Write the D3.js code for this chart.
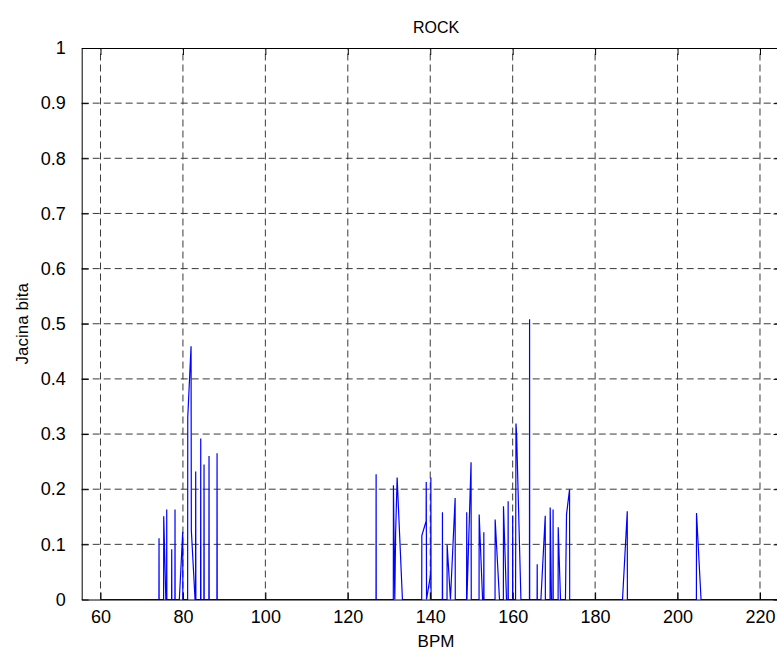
<!DOCTYPE html>
<html>
<head>
<meta charset="utf-8">
<script src="https://cdn.jsdelivr.net/npm/d3@7"></script>
<style>
  body { margin: 0; background: #fff; }
  text { font-family: "Liberation Sans", Arial, sans-serif; fill: #000; }
</style>
</head>
<body>
<script>
// DATA //
const bpm = [60,
    74.17, 74.2, 74.23,
    75.31, 75.34, 75.85, 76.04, 76.07, 76.1,
    77.25, 77.28, 77.31,
    78.05, 78.08, 78.11,
    79.13, 79.95, 79.98,
    81.14, 81.17, 81.97, 82.04, 82.94,
    83.06, 83.1, 83.14,
    84.28, 84.32, 84.36,
    85.08, 85.12, 85.16,
    86.29, 86.33, 86.37,
    88.24, 88.28, 88.32,
    126.84, 126.87, 126.9,
    131.04, 131.07, 131.4, 131.6, 131.97, 133.25,
    137.93, 137.96, 139.0, 139.03, 139.1, 140.12, 140.15, 140.2,
    142.93, 142.96, 142.99,
    144.07, 144.1, 144.9, 146.04, 146.07,
    148.82, 148.85, 148.9, 149.9, 149.95,
    151.84, 151.87, 152.7, 152.97, 153.0, 153.03,
    155.72, 155.75, 156.8,
    157.74, 157.77, 158.5, 158.87, 158.9, 158.93,
    159.97, 160.0, 160.03, 160.7, 160.8, 160.95, 162.0,
    164.07, 164.1, 164.13,
    165.92, 165.95, 165.98,
    166.85, 167.9, 167.93,
    169.07, 169.1, 169.4, 169.77, 169.8, 169.83,
    171.02, 171.05, 171.6,
    172.8, 173.06, 173.8, 173.83,
    186.65, 187.8, 187.83,
    204.57, 204.6, 205.7,
    230];

const jacina = [0,
    0, 0.111, 0,
    0, 0.151, 0, 0, 0.163, 0,
    0, 0.091, 0,
    0, 0.163, 0,
    0, 0.123, 0,
    0, 0.33, 0.459, 0.125, 0,
    0, 0.232, 0,
    0, 0.292, 0,
    0, 0.245, 0,
    0, 0.26, 0,
    0, 0.265, 0,
    0, 0.227, 0,
    0, 0.207, 0, 0.12, 0.221, 0,
    0, 0.116, 0.142, 0.213, 0, 0.047, 0.221, 0,
    0, 0.158, 0,
    0, 0.099, 0, 0.184, 0,
    0, 0.158, 0, 0.249, 0,
    0, 0.154, 0, 0, 0.122, 0,
    0, 0.145, 0,
    0, 0.169, 0, 0, 0.178, 0,
    0, 0.152, 0, 0, 0.319, 0.3, 0,
    0, 0.508, 0,
    0, 0.064, 0,
    0, 0.152, 0,
    0, 0.167, 0, 0, 0.163, 0,
    0, 0.131, 0,
    0, 0.154, 0.2, 0,
    0, 0.16, 0,
    0, 0.157, 0,
    0];

const xTicks = [60, 80, 100, 120, 140, 160, 180, 200, 220];
const yTicks = [0, 0.1, 0.2, 0.3, 0.4, 0.5, 0.6, 0.7, 0.8, 0.9, 1];

// Dimensions
const width = 777,
    height = 653;
const box = { left: 81.7, right: 780.6, top: 48, bottom: 599.5 };
const midX = 436;   // text centre as in the reference

const svg = d3.select('body')
    .append('svg')
    .attr('width', width)
    .attr('height', height);

const x = d3.scaleLinear()
    .domain([55.44, 225])
    .range([box.left, box.right]);

const y = d3.scaleLinear()
    .domain([0, 1])
    .range([box.bottom, box.top]);

// GRID (dashed)
const grid = svg.append('g')
    .attr('stroke', '#3a3a3a')
    .attr('stroke-width', 1)
    .attr('stroke-dasharray', '7,4');

grid.selectAll('line.vx')
    .data(xTicks)
    .join('line')
    .attr('x1', d => x(d)).attr('x2', d => x(d))
    .attr('y1', box.bottom).attr('y2', box.top);

grid.selectAll('line.hy')
    .data(yTicks.slice(1, -1))
    .join('line')
    .attr('class', 'hy')
    .attr('x1', box.left).attr('x2', box.right)
    .attr('y1', d => y(d)).attr('y2', d => y(d));

// LINE
svg.append('clipPath')
    .attr('id', 'clip')
    .append('rect')
    .attr('x', box.left).attr('y', box.top)
    .attr('width', box.right - box.left)
    .attr('height', box.bottom - box.top + 1);

const pts = bpm.map((d, i) => [d, jacina[i]]);

svg.append('path')
    .datum(pts)
    .attr('clip-path', 'url(#clip)')
    .attr('fill', 'none')
    .attr('stroke', '#0000ff')
    .attr('stroke-width', 1.2)
    .attr('d', d3.line().x(d => x(d[0])).y(d => y(d[1])));

// AXES (matlab style, ticks inside, on all sides)
const tickLen = 7;

svg.append('g')
    .attr('transform', `translate(0, ${box.bottom})`)
    .call(d3.axisBottom(x).tickValues(xTicks).tickSizeInner(-tickLen).tickSizeOuter(0).tickPadding(11))
    .call(g => g.select('.domain').attr('stroke', '#000'))
    .call(g => g.selectAll('text').style('font-size', '18px').attr('font-family', null));

svg.append('g')
    .attr('transform', `translate(0, ${box.top})`)
    .call(d3.axisTop(x).tickValues(xTicks).tickSizeInner(-tickLen).tickSizeOuter(0).tickFormat(''))
    .call(g => g.select('.domain').attr('stroke', '#000'));

svg.append('g')
    .attr('transform', `translate(${box.left}, 0)`)
    .call(d3.axisLeft(y).tickValues(yTicks).tickSizeInner(-tickLen).tickSizeOuter(0).tickPadding(16).tickFormat(d3.format('')))
    .call(g => g.select('.domain').attr('stroke', '#000'))
    .call(g => g.selectAll('text').style('font-size', '18px').attr('font-family', null));

svg.append('g')
    .attr('transform', `translate(${box.right}, 0)`)
    .call(d3.axisRight(y).tickValues(yTicks).tickSizeInner(-tickLen).tickSizeOuter(0).tickFormat(''))
    .call(g => g.select('.domain').attr('stroke', '#000'));

// LABELS
svg.append('text')
    .text('ROCK')
    .attr('x', midX)
    .attr('y', 33)
    .style('text-anchor', 'middle')
    .style('font-size', '16px');

svg.append('text')
    .text('BPM')
    .attr('x', midX)
    .attr('y', 647)
    .style('text-anchor', 'middle')
    .style('font-size', '17px');

svg.append('text')
    .text('Jacina bita')
    .attr('transform', `translate(28, ${(box.top + box.bottom) / 2}) rotate(-90)`)
    .style('text-anchor', 'middle')
    .style('font-size', '17px');
</script>
</body>
</html>
